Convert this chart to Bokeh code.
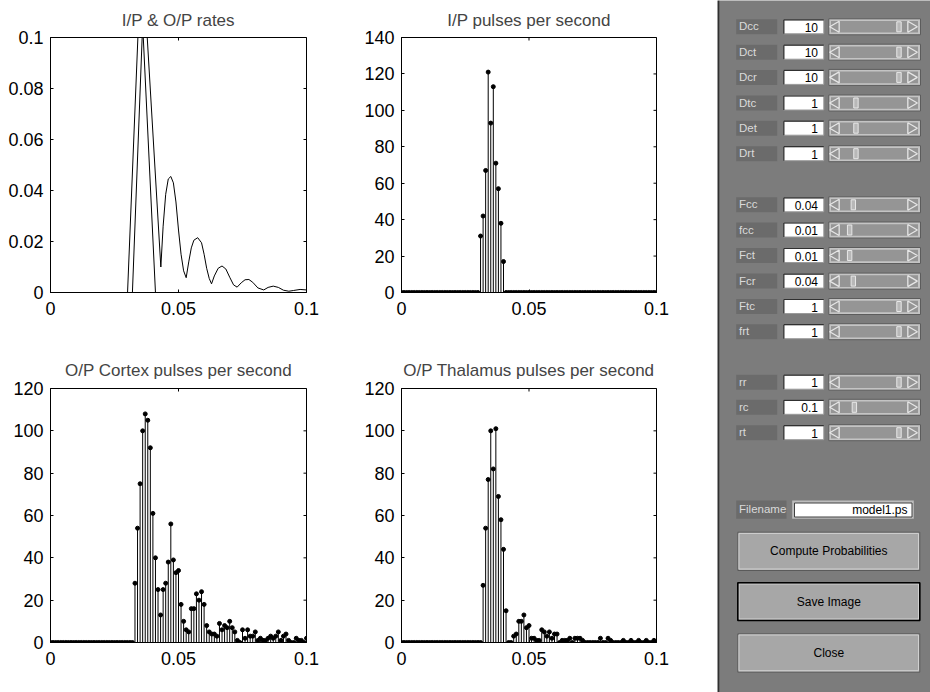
from bokeh.plotting import figure
from bokeh.layouts import row, column
from bokeh.models import Range1d, FixedTicker, PrintfTickFormatter, ColumnDataSource
from bokeh.embed import file_html
from bokeh.resources import INLINE
from bokeh.core.properties import value

FONT = "Liberation Sans"

# ---------------- data ----------------
t = [i / 1000 for i in range(101)]          # sample times (s)

ip_pps = [0] * 31 + [31, 42, 67, 121, 93, 113, 71, 57, 38, 17] + [0] * 60

cortex_pps = [0] * 33 + [
    28, 54, 75, 100, 108, 105, 92, 61, 40, 25,
    13, 25, 28, 38, 56, 39, 33, 34, 18, 10,
    6, 5, 16, 16, 23, 20, 24, 18, 8, 5,
    4, 4, 3, 9, 6, 8, 7, 10, 7, 5,
    1, 0, 6, 2, 6, 3, 3, 5, 1, 2,
    1, 1, 2, 3, 2, 3, 5, 1, 3, 4,
    1, 0, 0, 2, 1, 1, 0, 2]

thal_pps = [0] * 32 + [
    27, 54, 77, 100, 82, 101, 69, 58, 44, 15,
    0, 0, 3, 4, 10, 10, 13, 7, 8, 2,
    2, 1, 1, 6, 5, 3, 5, 2, 4, 4,
    0, 1, 1, 1, 2, 0, 2, 2, 2, 1,
    0, 0, 0, 0, 0, 0, 2, 0, 0, 2,
    1, 0, 0, 0, 0, 1, 0, 0, 1, 0,
    0, 1, 0, 0, 1, 0, 0, 1, 0]

rate_in_x = [0.0, 0.0301, 0.0351, 0.0410, 0.1]
rate_in_y = [0.0, 0.0, 0.124, 0.0, 0.0]

rate_out_x = [0.0, 0.0320, 0.03658, 0.0431, 0.0440, 0.0450, 0.0460, 0.0470,
              0.0480, 0.0490, 0.0500, 0.0510, 0.0520, 0.0530, 0.0540, 0.0550,
              0.0560, 0.0575, 0.0590, 0.0600, 0.0610, 0.0620, 0.0629, 0.0640,
              0.0655, 0.0670, 0.0685, 0.0700, 0.0715, 0.0729, 0.0745, 0.0760,
              0.0775, 0.0790, 0.0810, 0.0833, 0.0850, 0.0870, 0.0890, 0.0910,
              0.0931, 0.0950, 0.0975, 0.1000]
rate_out_y = [0.0, 0.0, 0.1205, 0.0100, 0.0260, 0.0385, 0.0445, 0.0455,
              0.0430, 0.0355, 0.0245, 0.0150, 0.0085, 0.0058, 0.0120, 0.0175,
              0.0205, 0.0215, 0.0195, 0.0150, 0.0095, 0.0055, 0.0034, 0.0065,
              0.0095, 0.0104, 0.0092, 0.0060, 0.0030, 0.0021, 0.0038, 0.0050,
              0.0051, 0.0040, 0.0018, 0.0010, 0.0020, 0.0025, 0.0020, 0.0009,
              0.0005, 0.0008, 0.0012, 0.0010]

x_ticks = [0, 0.05, 0.1]
rate_ticks = [0, 0.02, 0.04, 0.06, 0.08, 0.1]
ip_ticks = [0, 20, 40, 60, 80, 100, 120, 140]
op_ticks = [0, 20, 40, 60, 80, 100, 120]

titles = ["I/P & O/P rates", "I/P pulses per second",
          "O/P Cortex pulses per second", "O/P Thalamus pulses per second"]

param_names = ["Dcc", "Dct", "Dcr", "Dtc", "Det", "Drt",
               "Fcc", "fcc", "Fct", "Fcr", "Ftc", "frt",
               "rr", "rc", "rt"]
param_values = ["10", "10", "10", "1", "1", "1",
                "0.04", "0.01", "0.01", "0.04", "1", "1",
                "1", "0.1", "1"]
slider_frac = [1.0, 1.0, 1.0, 0.18, 0.18, 0.18,
               0.13, 0.06, 0.06, 0.13, 1.0, 1.0,
               1.0, 0.15, 1.0]
filename = "model1.ps"
buttons = ["Compute Probabilities", "Save Image", "Close"]

# ---------------- layout constants ----------------
FRAME_H = 255
LEFT_B, TOP_B = 50, 37


def make_fig(title, w, h, frame_w, ymax, yticks, fmt, title_gap):
    p = figure(width=w, height=h, x_range=Range1d(0, 0.1), y_range=Range1d(0, ymax),
               output_backend="svg", toolbar_location=None,
               min_border_left=LEFT_B, min_border_right=w - LEFT_B - frame_w,
               min_border_top=TOP_B, min_border_bottom=h - TOP_B - FRAME_H,
               background_fill_color="white", border_fill_color="white",
               outline_line_color="black", outline_line_width=1)
    p.title.text = title
    p.title.text_font = FONT
    p.title.text_font_size = "17px"
    p.title.text_font_style = "normal"
    p.title.align = "center"
    p.title.standoff = title_gap
    p.grid.visible = False
    p.xaxis.ticker = FixedTicker(ticks=x_ticks)
    p.yaxis.ticker = FixedTicker(ticks=yticks)
    p.xaxis.formatter = PrintfTickFormatter(format="%g")
    p.yaxis.formatter = PrintfTickFormatter(format=fmt)
    for ax in p.axis:
        ax.major_tick_in = 3
        ax.major_tick_out = 0
        ax.minor_tick_line_color = None
        ax.axis_line_color = "black"
        ax.major_tick_line_color = "black"
        ax.major_label_text_font = FONT
        ax.major_label_text_font_size = "18px"
        ax.major_label_text_color = "black"
    p.xaxis.major_label_standoff = 9
    p.yaxis.major_label_standoff = 7
    # inward tick marks on the top and right edges of the box (MATLAB style)
    p.scatter(x=x_ticks, y=[ymax] * len(x_ticks), marker="dash", angle=1.5708, size=6,
              line_color="black", line_width=1)
    p.scatter(x=[0.1] * len(yticks), y=yticks, marker="dash", size=6,
              line_color="black", line_width=1)
    return p


def stems(p, xs, ys):
    src = ColumnDataSource(dict(x=xs, y=ys, y0=[0] * len(xs)))
    p.segment(x0="x", y0="y0", x1="x", y1="y", source=src, line_color="black", line_width=1)
    p.scatter(x="x", y="y", source=src, size=4, fill_color="black", line_color="black")


W_L, W_R = 351, 366
H_T, H_B = 350, 342

p1 = make_fig(titles[0], W_L, H_T, 256, 0.1, rate_ticks, "%g", 15)
p1.line(rate_in_x, rate_in_y, line_color="black", line_width=1)
p1.line(rate_out_x, rate_out_y, line_color="black", line_width=1)

p2 = make_fig(titles[1], W_R, H_T, 255, 140, ip_ticks, "%d", 15)
stems(p2, t, ip_pps)

p3 = make_fig(titles[2], W_L, H_B, 256, 120, op_ticks, "%d", 17)
stems(p3, t, cortex_pps)

p4 = make_fig(titles[3], W_R, H_B, 255, 120, op_ticks, "%d", 17)
stems(p4, t, thal_pps)

# ---------------- control panel ----------------
PANEL_BG = "#7c7c7c"
panel = figure(width=213, height=692, x_range=Range1d(717, 930), y_range=Range1d(692, 0),
               output_backend="svg", toolbar_location=None, min_border=0,
               x_axis_type=None, y_axis_type=None,
               background_fill_color=PANEL_BG, border_fill_color=PANEL_BG,
               outline_line_color=None)
panel.grid.visible = False
panel.quad(left=[717], right=[718.8], top=[0], bottom=[692], fill_color="#303030", line_color=None)

ROW_Y = [26.3, 51.7, 76.9, 102.5, 127.7, 153.2,
         204.3, 229.5, 255.0, 280.6, 306.0, 331.2,
         381.7, 406.8, 432.2]
cy = ROW_Y
n = len(param_names)

# label boxes
panel.quad(left=[735.7] * n, right=[776.7] * n, top=[y - 7.5 for y in cy], bottom=[y + 7.5 for y in cy],
           fill_color="#6b6b6b", line_color=None)
panel.text(x=[738.5] * n, y=[y - 6.5 for y in cy], text=param_names, text_font=value(FONT),
           text_font_size="11.5px", text_color="#dadada", text_baseline="top", text_align="left")
# edit boxes
panel.quad(left=[783.3] * n, right=[823.3] * n, top=[y - 7 for y in cy], bottom=[y + 7 for y in cy],
           fill_color="white", line_color="#9a9a9a", line_width=1)
panel.segment(x0=[783.3] * n, y0=[y - 7 for y in cy], x1=[823.3] * n, y1=[y - 7 for y in cy],
              line_color="#303030", line_width=1.2)
panel.segment(x0=[783.3] * n, y0=[y - 7 for y in cy], x1=[783.3] * n, y1=[y + 7 for y in cy],
              line_color="#303030", line_width=1.2)
panel.text(x=[817.5] * n, y=[y + 0.5 for y in cy], text=param_values, text_font=value(FONT),
           text_font_size="12px", text_color="black", text_baseline="middle", text_align="right")
# sliders
panel.quad(left=[828.3] * n, right=[920] * n, top=[y - 8 for y in cy], bottom=[y + 8 for y in cy],
           fill_color="#c4c4c4", line_color="#5c5c5c", line_width=1)
panel.quad(left=[830.5] * n, right=[917.5] * n, top=[y - 5.8 for y in cy], bottom=[y + 5.8 for y in cy],
           fill_color="#959595", line_color=None)
panel.scatter(x=[835.5] * n, y=cy, marker="triangle", angle=1.5708, size=11,
              fill_color="#959595", line_color="#e6e6e6", line_width=1.3)
panel.scatter(x=[910.5] * n, y=cy, marker="triangle", angle=-1.5708, size=11,
              fill_color="#959595", line_color="#e6e6e6", line_width=1.3)
thumb_x = [846 + f * (898.5 - 846) for f in slider_frac]
panel.quad(left=[x - 2.2 for x in thumb_x], right=[x + 2.2 for x in thumb_x],
           top=[y - 5 for y in cy], bottom=[y + 5 for y in cy],
           fill_color="#b8b8b8", line_color="#e8e8e8", line_width=1)

# filename row
panel.quad(left=[735.7], right=[786], top=[500], bottom=[518.3], fill_color="#6b6b6b", line_color=None)
panel.text(x=[738.5], y=[502], text=["Filename"], text_font=value(FONT), text_font_size="11.5px",
           text_color="#dadada", text_baseline="top", text_align="left")
panel.quad(left=[791.7], right=[913.3], top=[500], bottom=[518.3], fill_color="#bdbdbd", line_color=None)
panel.quad(left=[794], right=[911.5], top=[502.5], bottom=[516.5], fill_color="white", line_color="#404040", line_width=1)
panel.text(x=[907], y=[509.7], text=[filename], text_font=value(FONT), text_font_size="12px",
           text_color="black", text_baseline="middle", text_align="right")

# buttons
BTN_TOP = [531.7, 582.3, 633.3]
BTN_BOT = [570.0, 620.0, 671.7]
panel.quad(left=[737.3] * 3, right=[919.3] * 3, top=BTN_TOP, bottom=BTN_BOT,
           fill_color="#a7a7a7", line_color="#5a5a5a", line_width=1)
panel.quad(left=[738.5] * 3, right=[918] * 3, top=[v + 1.2 for v in BTN_TOP], bottom=[v - 1.5 for v in BTN_BOT],
           fill_color="#a7a7a7", line_color="#d0d0d0", line_width=1)
panel.quad(left=[737.3], right=[919.3], top=[BTN_TOP[1]], bottom=[BTN_BOT[1]],
           fill_color=None, line_color="black", line_width=1.6)
panel.text(x=[828.3] * 3, y=[(a + b) / 2 for a, b in zip(BTN_TOP, BTN_BOT)], text=buttons,
           text_font=value(FONT), text_font_size="12px", text_color="black",
           text_baseline="middle", text_align="center")

layout = row(column(row(p1, p2), row(p3, p4)), panel)

open("out.html", "w").write(file_html(layout, INLINE))
